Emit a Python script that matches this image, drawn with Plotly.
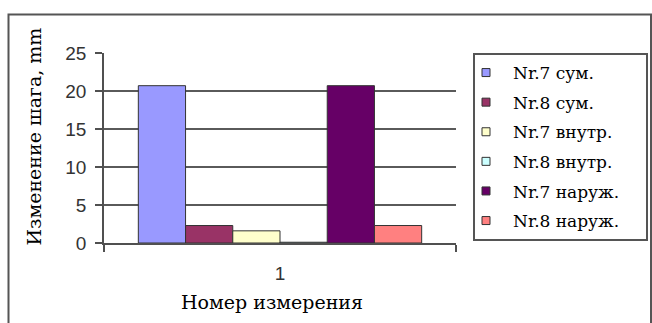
import plotly.graph_objects as go

# Pitch change per measurement, mm
categories = ["1"]
series_names = ["Nr.7 сум.", "Nr.8 сум.", "Nr.7 внутр.", "Nr.8 внутр.", "Nr.7 наруж.", "Nr.8 наруж."]
series_values = [20.7, 2.3, 1.6, 0.1, 20.7, 2.3]
series_colors = ["#9999FF", "#993366", "#FFFFCC", "#CCFFFF", "#660066", "#FF8080"]
y_tick_values = [0, 5, 10, 15, 20, 25]

W, H = 652, 323

def px_x(x):
    return x / W

def px_y(y):
    return 1 - y / H

fig = go.Figure()

for name, val, col in zip(series_names, series_values, series_colors):
    fig.add_trace(go.Bar(
        x=categories, y=[val], name=name,
        marker=dict(color=col, line=dict(color="#333333", width=1)),
        showlegend=False,
    ))
    # legend entry with a small square swatch
    fig.add_trace(go.Scatter(
        x=[None], y=[None], name=name, mode="markers",
        marker=dict(symbol="square", size=8, color=col, line=dict(color="#333333", width=1)),
        legendgroup=name,
    ))

serif = "DejaVu Serif"
sans = "Liberation Sans, Arial, sans-serif"

fig.update_layout(
    width=W, height=H, autosize=False,
    margin=dict(l=0, r=0, t=0, b=0),
    template="none",
    paper_bgcolor="white", plot_bgcolor="white",
    barmode="group", bargap=0.195, bargroupgap=0,
    showlegend=True,
    legend=dict(
        x=px_x(459), y=px_y(55), xanchor="left", yanchor="top",
        font=dict(family=serif, size=17, color="black"),
        bgcolor="rgba(0,0,0,0)", borderwidth=0,
        itemwidth=44, tracegroupgap=4.5,
    ),
    xaxis=dict(
        type="category", domain=[px_x(104), px_x(456)], range=[-0.5, 0.5],
        showgrid=False, showline=True, linecolor="#505050", linewidth=1.8,
        ticks="outside", tickson="boundaries", ticklen=7, tickcolor="#505050", tickwidth=1.8,
        tickfont=dict(family=sans, size=19, color="#333333"), ticklabelstandoff=12,
        automargin=False, zeroline=False,
    ),
    yaxis=dict(
        domain=[px_y(243), px_y(53)], range=[0, 25],
        tickvals=y_tick_values,
        showgrid=True, gridcolor="#5a5a5a", gridwidth=1.8,
        showline=True, linecolor="#505050", linewidth=1.8,
        ticks="outside", ticklen=7, tickcolor="#505050", tickwidth=1.8,
        tickfont=dict(family=sans, size=19, color="#333333"), ticklabelstandoff=5,
        automargin=False, zeroline=False,
    ),
    annotations=[
        dict(text="Изменение шага, mm", x=px_x(33), y=px_y(136.5), xref="paper", yref="paper",
             textangle=-90, showarrow=False, xanchor="center", yanchor="middle",
             font=dict(family=serif, size=19, color="black")),
        dict(text="Номер измерения", x=px_x(272), y=px_y(301.5), xref="paper", yref="paper",
             showarrow=False, xanchor="center", yanchor="middle",
             font=dict(family=serif, size=19, color="black")),
    ],
    shapes=[
        # chart frame
        dict(type="rect", xref="paper", yref="paper",
             x0=px_x(8.5), x1=px_x(651), y0=-0.1, y1=px_y(14.5),
             line=dict(color="#555555", width=2), fillcolor="rgba(0,0,0,0)", layer="below"),
        # legend frame
        dict(type="rect", xref="paper", yref="paper",
             x0=px_x(474), x1=px_x(647), y0=px_y(240), y1=px_y(54),
             line=dict(color="#555555", width=2), fillcolor="rgba(0,0,0,0)"),
    ],
)

fig.write_html("out.html")
